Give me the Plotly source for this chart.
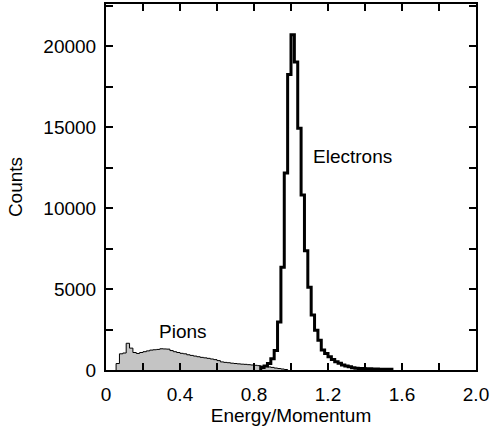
import numpy as np
import plotly.graph_objects as go

# Binning: 110 bins over 0..2
n_bins = 110
x_min, x_max = 0.0, 2.0

# Pion histogram (gray filled), starting at bin index 3
pion_start_bin = 3
pion_counts = [400, 1000, 1050, 1650, 1350, 1080, 1020, 1080, 1130, 1180,
               1230, 1250, 1270, 1310, 1300, 1290, 1200, 1130, 1080, 1030,
               1000, 940, 900, 860, 820, 780, 750, 720, 680, 640,
               580, 500, 470, 450, 420, 400, 380, 360, 350, 330,
               310, 290, 270, 240, 210, 190, 160, 120, 90, 60, 30]

# Electron histogram (thick black outline), starting at bin index 46
electron_start_bin = 46
electron_counts = [150, 250, 400, 700, 1200, 2960, 6340, 12170, 18240, 20700,
                   19020, 14930, 10800, 7360, 5110, 3400, 2450, 1840, 1230, 1020,
                   820, 650, 510, 410, 310, 245, 200, 140, 110, 100,
                   90, 80, 70, 60, 60, 50, 50, 40, 40]

x_tickvals = [0, 0.4, 0.8, 1.2, 1.6, 2.0]
x_ticktext = ["0", "0.4", "0.8", "1.2", "1.6", "2.0"]
y_tickvals = [0, 5000, 10000, 15000, 20000]
y_ticktext = ["0", "5000", "10000", "15000", "20000"]

bw = (x_max - x_min) / n_bins


def step_xy(start_bin, counts):
    edges = x_min + (start_bin + np.arange(len(counts) + 1)) * bw
    xs = [edges[0]] + list(edges[:-1]) + [edges[-1], edges[-1]]
    ys = [0] + list(counts) + [counts[-1], 0]
    return xs, ys


px, py = step_xy(pion_start_bin, pion_counts)
ex, ey = step_xy(electron_start_bin, electron_counts)

fig = go.Figure()
fig.add_trace(go.Scatter(x=px, y=py, mode="lines", line=dict(shape="hv", color="black", width=1),
                         fill="tozeroy", fillcolor="#c4c4c4", hoverinfo="skip"))
fig.add_trace(go.Scatter(x=ex, y=ey, mode="lines", line=dict(shape="hv", color="black", width=3),
                         hoverinfo="skip"))

font = dict(family="Liberation Sans, Arial, sans-serif", size=19, color="black")

fig.add_annotation(x=1.33, y=13200, text="Electrons", showarrow=False, font=font)
fig.add_annotation(x=0.415, y=2350, text="Pions", showarrow=False, font=font)

fig.update_layout(
    width=492, height=437,
    margin=dict(l=106, r=16, t=2, b=67),
    paper_bgcolor="white", plot_bgcolor="white",
    showlegend=False,
    font=font,
    xaxis=dict(range=[0, 2.0], tickvals=x_tickvals, ticktext=x_ticktext,
               ticks="inside", ticklen=7, tickwidth=1.5, tickcolor="black",
               ticklabelstandoff=6,
               minor=dict(dtick=0.2, ticks="inside", ticklen=7, tickwidth=1.5, tickcolor="black"),
               showline=True, linecolor="black", linewidth=2, mirror="allticks",
               showgrid=False, zeroline=False,
               title=dict(text="Energy/Momentum", font=font, standoff=2)),
    yaxis=dict(range=[0, 22600], tickvals=y_tickvals, ticktext=y_ticktext,
               ticks="inside", ticklen=7, tickwidth=1.5, tickcolor="black",
               ticklabelstandoff=4,
               minor=dict(dtick=2500, ticks="inside", ticklen=7, tickwidth=1.5, tickcolor="black"),
               showline=True, linecolor="black", linewidth=2, mirror="allticks",
               showgrid=False, zeroline=False,
               title=dict(text="Counts", font=font, standoff=16)),
)

fig.write_html("out.html")
